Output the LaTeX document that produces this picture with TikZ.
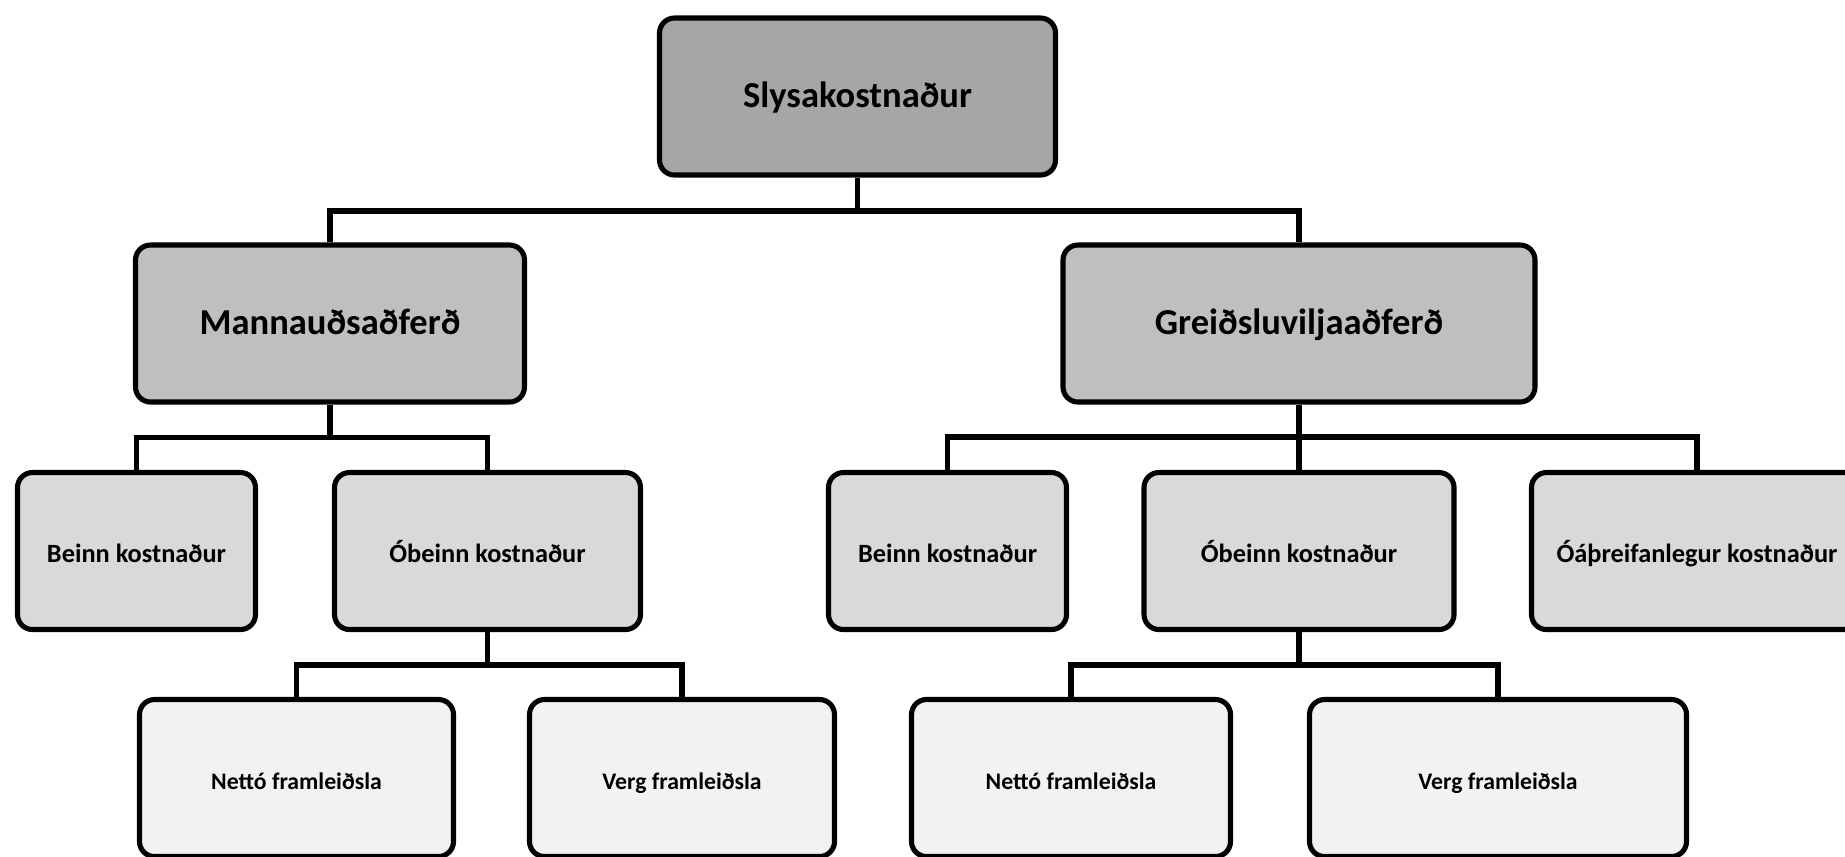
\documentclass[tikz,border=0pt]{standalone}
\usepackage{fontspec}
\setmainfont{Carlito}
\definecolor{gtop}{HTML}{A6A6A6}
\definecolor{gmid}{HTML}{BFBFBF}
\definecolor{glow}{HTML}{D9D9D9}
\definecolor{gleaf}{HTML}{F2F2F2}

\begin{document}
\begin{tikzpicture}[line width=1.45pt,
    box/.style={draw, rounded corners=0.15cm, inner sep=0pt,
      minimum height=1.57cm, text height=0.65em, text depth=0pt},
    lvltop/.style={box, fill=gtop, font=\bfseries\fontsize{10.4}{12}\selectfont},
    lvlmid/.style={box, fill=gmid, font=\bfseries\fontsize{10.4}{12}\selectfont},
    lvllow/.style={box, fill=glow, font=\bfseries\fontsize{7.5}{9}\selectfont},
    lvlleaf/.style={box, fill=gleaf, font=\bfseries\fontsize{6.75}{8}\selectfont}]
  \useasboundingbox (0,-8.56) rectangle (18.45,0);
  \clip (0,-8.56) rectangle (18.45,0);

  % top box
  \node[lvltop, minimum width=3.96cm] (slys) at (8.575,-0.965) {Slysakostnaður};

  % the two methods
  \node[lvlmid, minimum width=3.89cm] (mann)  at (3.30,-3.235)  {Mannauðsaðferð};
  \node[lvlmid, minimum width=4.72cm] (greid) at (12.99,-3.235) {Greiðsluviljaaðferð};

  % cost types
  \node[lvllow, minimum width=2.38cm] (beinnL)  at (1.365,-5.51) {Beinn kostnaður};
  \node[lvllow, minimum width=3.06cm] (obeinnL) at (4.875,-5.51) {Óbeinn kostnaður};
  \node[lvllow, minimum width=2.38cm] (beinnR)  at (9.475,-5.51) {Beinn kostnaður};
  \node[lvllow, minimum width=3.10cm] (obeinnR) at (12.99,-5.51) {Óbeinn kostnaður};
  \node[lvllow, minimum width=3.31cm] (oaf)     at (16.97,-5.51) {Óáþreifanlegur kostnaður};

  % production (cut off at the bottom)
  \node[lvlleaf, minimum width=3.14cm] (nettoL) at (2.965,-7.78) {Nettó framleiðsla};
  \node[lvlleaf, minimum width=3.05cm] (vergL)  at (6.82,-7.78)  {Verg framleiðsla};
  \node[lvlleaf, minimum width=3.19cm] (nettoR) at (10.71,-7.78) {Nettó framleiðsla};
  \node[lvlleaf, minimum width=3.77cm] (vergR)  at (14.98,-7.78) {Verg framleiðsla};

  % junctions of the connectors
  \coordinate (j0) at (8.575,-2.11);
  \coordinate (j1) at (3.30,-4.375);
  \coordinate (j2) at (12.99,-4.37);
  \coordinate (j3) at (4.875,-6.65);
  \coordinate (j4) at (12.99,-6.65);

  \draw (slys.south) -- (j0);
  \draw (mann.north) |- (j0) -| (greid.north);
  \draw (mann.south) -- (j1);
  \draw (beinnL.north) |- (j1) -| (obeinnL.north);
  \draw (greid.south) -- (obeinnR.north);
  \draw (beinnR.north) |- (j2) -| (oaf.north);
  \draw (obeinnL.south) -- (j3);
  \draw (nettoL.north) |- (j3) -| (vergL.north);
  \draw (obeinnR.south) -- (j4);
  \draw (nettoR.north) |- (j4) -| (vergR.north);
\end{tikzpicture}
\end{document}
